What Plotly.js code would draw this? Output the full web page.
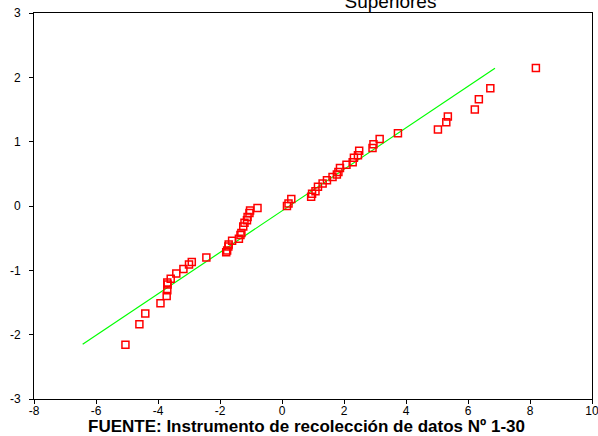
<!DOCTYPE html>
<html>
<head>
<meta charset="utf-8">
<script src="https://cdn.plot.ly/plotly-3.0.1.min.js"></script>
<style>html,body{margin:0;padding:0;background:#fff;}#chart{width:598px;height:436px;}</style>
</head>
<body>
<div id="chart"></div>
<script>
// Observed values (x) and expected normal values (y)
const observed = [-5.05,-4.60,-4.41,-3.92,-3.72,-3.70,-3.69,-3.70,-3.59,-3.41,-3.18,-3.00,-2.91,-2.44,
  -1.80,-1.77,-1.73,-1.72,-1.61,-1.39,-1.34,-1.31,-1.25,-1.21,-1.13,-1.11,-1.05,-1.03,-0.79,
  0.16,0.21,0.30,0.94,0.97,1.08,1.16,1.31,1.45,1.63,1.77,1.82,1.87,2.08,2.28,2.32,2.45,2.49,
  2.92,2.95,3.15,3.74,5.03,5.30,5.35,6.22,6.35,6.72,8.19];
const expected = [-2.156,-1.84,-1.67,-1.51,-1.40,-1.31,-1.22,-1.19,-1.13,-1.05,-0.98,-0.91,-0.87,-0.80,
  -0.72,-0.69,-0.63,-0.60,-0.54,-0.51,-0.45,-0.42,-0.32,-0.26,-0.22,-0.17,-0.11,-0.07,-0.03,
  0.00,0.04,0.11,0.145,0.19,0.23,0.30,0.35,0.40,0.45,0.49,0.53,0.59,0.64,0.68,0.75,0.79,0.86,
  0.90,0.96,1.04,1.13,1.19,1.30,1.39,1.50,1.66,1.83,2.145];
const refLineX = [-6.43, 6.87];
const refLineY = [-2.15, 2.14];
const xTicks = [-8,-6,-4,-2,0,2,4,6,8,10];
const yTicks = [-3,-2,-1,0,1,2,3];
const titleText = 'Superiores';
const footerText = 'FUENTE: Instrumento de recolección de datos Nº 1-30';

const traces = [
  {x: refLineX, y: refLineY, mode: 'lines', type: 'scatter',
   line: {color: '#00ff00', width: 1.2}, hoverinfo: 'skip'},
  {x: observed, y: expected, mode: 'markers', type: 'scatter',
   marker: {symbol: 'square-open', size: 7, color: '#ff0000', line: {width: 1.5, color: '#ff0000'}}}
];

const axisCommon = {
  showgrid: false, zeroline: false, showline: true, mirror: true,
  linecolor: '#000', linewidth: 1, ticks: 'outside', ticklen: 4, tickcolor: '#000',
  ticklabeloverflow: 'allow',
  tickfont: {family: 'Liberation Sans, Arial, sans-serif', size: 12, color: '#000'}
};

const layout = {
  width: 598, height: 436,
  margin: {l: 34, r: 6, t: 13, b: 37, pad: 0},
  paper_bgcolor: '#fff', plot_bgcolor: '#fff',
  showlegend: false,
  title: {text: titleText, font: {family: 'Liberation Sans, Arial, sans-serif', size: 19, color: '#000'},
          x: 0.653, xanchor: 'center', xref: 'container', y: 0.996, yref: 'container', yanchor: 'middle'},
  xaxis: Object.assign({}, axisCommon, {range: [-8, 10], tickvals: xTicks, ticktext: xTicks.map(String),
          ticklabelstandoff: -3}),
  yaxis: Object.assign({}, axisCommon, {range: [-3, 3], tickvals: yTicks, ticktext: yTicks.map(String),
          ticklabelstandoff: 6}),
  annotations: [{
    text: '<b>' + footerText + '</b>', xref: 'paper', yref: 'paper', x: 0.489, y: 0,
    xanchor: 'center', yanchor: 'middle', yshift: -27, showarrow: false,
    font: {family: 'Liberation Sans, Arial, sans-serif', size: 17, color: '#000'}
  }]
};

Plotly.newPlot('chart', traces, layout, {displayModeBar: false, staticPlot: true});
</script>
</body>
</html>
